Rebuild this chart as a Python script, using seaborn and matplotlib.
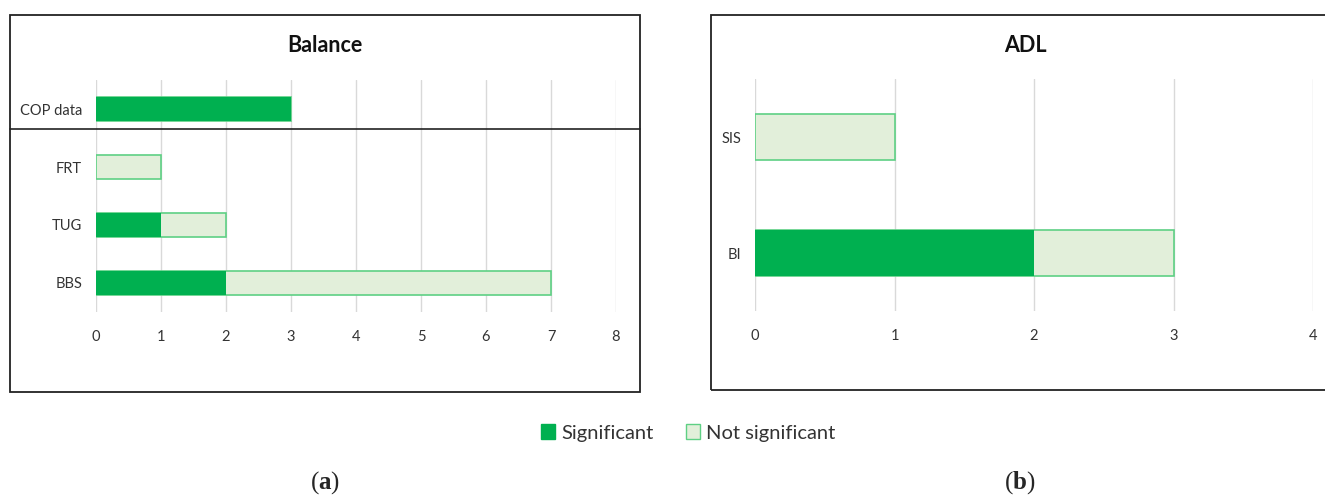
import numpy as np
import pandas as pd
import matplotlib
matplotlib.use('Agg')
import matplotlib.pyplot as plt
from matplotlib.patches import Patch, Rectangle
from matplotlib.lines import Line2D
import seaborn as sns

# data
balance_tests = ['COP data', 'FRT', 'TUG', 'BBS']
balance_sig = [3, 0, 1, 2]
balance_not_sig = [0, 1, 1, 5]
balance_ticks = [0, 1, 2, 3, 4, 5, 6, 7, 8]

adl_tests = ['SIS', 'BI']
adl_sig = [0, 2]
adl_not_sig = [1, 1]
adl_ticks = [0, 1, 2, 3, 4]

SIG = '#00B050'
NOT_SIG = '#E2EFDA'
NOT_SIG_EDGE = '#5ED084'
GRID = '#D9D9D9'

sns.set_theme(style='white')
plt.rcParams['font.family'] = ['Lato', 'DejaVu Sans']
plt.rcParams['mathtext.fontset'] = 'custom'
plt.rcParams['mathtext.bf'] = 'Liberation Serif:bold'
plt.rcParams['mathtext.rm'] = 'Liberation Serif'

W, H = 1325, 496
fig = plt.figure(figsize=(W / 100, H / 100), dpi=100)


def px_axes(x0, x1, y0, y1):
    return fig.add_axes([x0 / W, 1 - y1 / H, (x1 - x0) / W, (y1 - y0) / H])


def stacked(ax, tests, sig, not_sig, ticks, bar_w):
    df = pd.DataFrame({'test': tests, 'sig': sig,
                       'total': np.array(sig) + np.array(not_sig)})
    sns.barplot(data=df, x='total', y='test', orient='h', color=NOT_SIG,
                saturation=1, width=bar_w, edgecolor=NOT_SIG_EDGE,
                linewidth=1.2, ax=ax)
    sns.barplot(data=df, x='sig', y='test', orient='h', color=SIG,
                saturation=1, width=bar_w, linewidth=0, ax=ax)
    ax.set_xlim(ticks[0], ticks[-1])
    ax.set_ylim(len(tests) - 0.5, -0.5)
    ax.set_xticks(ticks)
    ax.set_xlabel('')
    ax.set_ylabel('')
    ax.grid(axis='x', color=GRID, linewidth=1)
    ax.set_axisbelow(True)
    sns.despine(ax=ax, left=True, bottom=True)
    ax.tick_params(axis='both', length=0, labelsize=10.5, colors='#333333')
    ax.tick_params(axis='x', pad=13)
    ax.tick_params(axis='y', pad=10)


ax1 = px_axes(96, 616, 80, 312)
stacked(ax1, balance_tests, balance_sig, balance_not_sig, balance_ticks, 0.41)

ax2 = px_axes(755, 1313, 79, 311)
stacked(ax2, adl_tests, adl_sig, adl_not_sig, adl_ticks, 0.40)

# panel frames
fig.patches.append(Rectangle((10 / W, 1 - 392 / H), 630 / W, 377 / H,
                             transform=fig.transFigure, fill=False,
                             edgecolor='#222222', linewidth=1.3))
fig.patches.append(Rectangle((711 / W, 1 - 390 / H), 640 / W, 375 / H,
                             transform=fig.transFigure, fill=False,
                             edgecolor='#222222', linewidth=1.3))
fig.lines.append(Line2D([10 / W, 640 / W], [1 - 129 / H, 1 - 129 / H],
                        transform=fig.transFigure, color='#222222',
                        linewidth=1.2))

fig.text(325 / W, 1 - 45 / H, 'Balance', ha='center', va='center',
         fontsize=15.5, fontweight='bold', color='#111111')
fig.text(1025 / W, 1 - 45 / H, 'ADL', ha='center', va='center',
         fontsize=15.5, fontweight='bold', color='#111111')

handles = [Patch(facecolor=SIG, edgecolor=SIG, label='Significant'),
           Patch(facecolor=NOT_SIG, edgecolor=NOT_SIG_EDGE, label='Not significant')]
fig.legend(handles=handles, loc='center', bbox_to_anchor=(688 / W, 1 - 433 / H),
           ncol=2, frameon=False, fontsize=14.5, handlelength=0.7,
           handleheight=0.7, handletextpad=0.3, columnspacing=1.6,
           labelcolor='#333333')

fig.text(325 / W, 1 - 483 / H, r'($\mathbf{a}$)', ha='center', va='center',
         fontsize=18, family='Liberation Serif')
fig.text(1020 / W, 1 - 483 / H, r'($\mathbf{b}$)', ha='center', va='center',
         fontsize=18, family='Liberation Serif')

fig.savefig('out.png', dpi=100)
